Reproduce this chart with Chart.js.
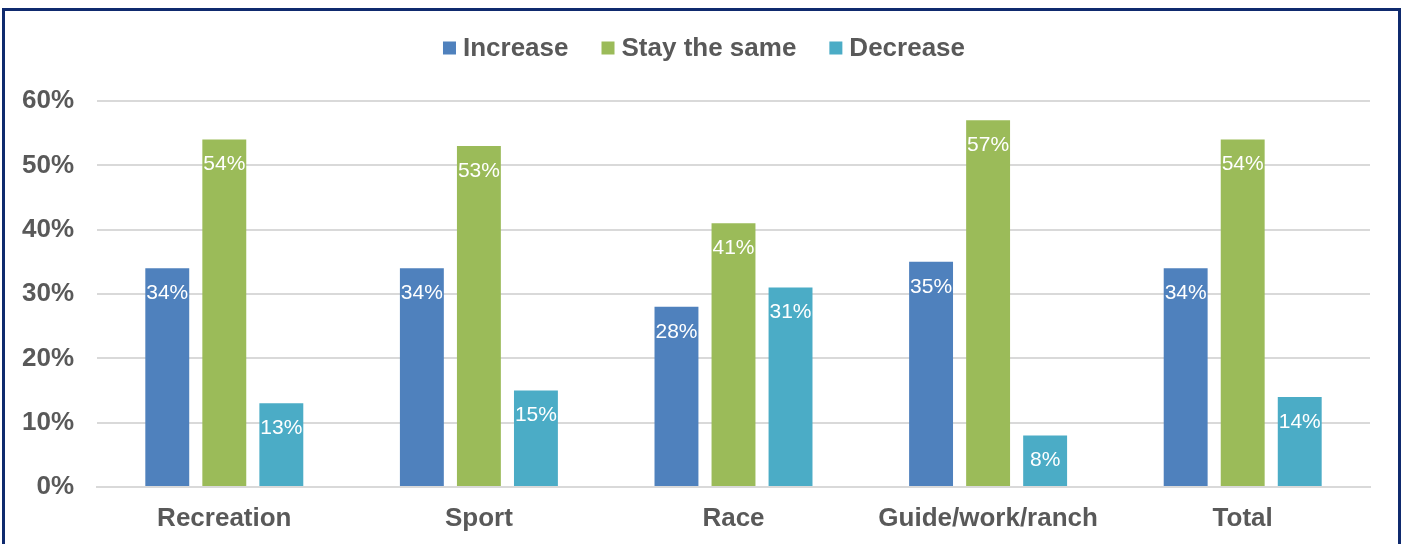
<!DOCTYPE html>
<html>
<head>
<meta charset="utf-8">
<script src="https://cdn.jsdelivr.net/npm/chart.js@4/dist/chart.umd.min.js"></script>
<style>
  html, body { margin: 0; padding: 0; background: #fff; overflow: hidden; }
  #frame { position: absolute; left: 2px; top: 8px; width: 1399px; height: 600px;
           border: 3px solid #0f2a6e; box-sizing: border-box; }
  #wrap { position: absolute; left: 0; top: 0; width: 1408px; height: 544px; }
</style>
</head>
<body>
<div id="frame"></div>
<div id="wrap"><canvas id="c" width="1408" height="544"></canvas></div>
<script>
const categories = ['Recreation', 'Sport', 'Race', 'Guide/work/ranch', 'Total'];
const increase = [34, 34, 28, 35, 34];
const staySame = [54, 53, 41, 57, 54];
const decrease = [13, 15, 31, 8, 14];
const yTicks = [0, 10, 20, 30, 40, 50, 60];

const textColor = '#595959';
const fontFamily = '"Liberation Sans", Arial, sans-serif';
const boldFont = 'bold 26px ' + fontFamily;

// value labels drawn inside each bar, near its top
const barLabels = {
  id: 'barLabels',
  afterDatasetsDraw(chart) {
    const ctx = chart.ctx;
    ctx.save();
    ctx.font = '21px ' + fontFamily;
    ctx.fillStyle = '#ffffff';
    ctx.textAlign = 'center';
    ctx.textBaseline = 'middle';
    chart.data.datasets.forEach((ds, i) => {
      chart.getDatasetMeta(i).data.forEach((bar, j) => {
        const top = bar.y, bottom = bar.base;
        const y = Math.min(top + 25, (top + bottom) / 2 + 1);
        ctx.fillText(ds.data[j] + '%', bar.x, y);
      });
    });
    ctx.restore();
  }
};

// compact legend row above the plot: square swatch + bold series name
const topLegend = {
  id: 'topLegend',
  afterDraw(chart) {
    const ctx = chart.ctx;
    const box = 13, gapText = 7, gapItem = 33, cy = 48;
    ctx.save();
    ctx.font = boldFont;
    const items = chart.data.datasets.map(ds => ({
      label: ds.label, color: ds.backgroundColor, w: ctx.measureText(ds.label).width
    }));
    const total = items.reduce((s, it) => s + box + gapText + it.w, 0) + gapItem * (items.length - 1);
    let x = chart.width / 2 - total / 2;
    ctx.textBaseline = 'middle';
    ctx.textAlign = 'left';
    items.forEach(it => {
      ctx.fillStyle = it.color;
      ctx.fillRect(x, cy - box / 2, box, box);
      x += box + gapText;
      ctx.fillStyle = textColor;
      ctx.fillText(it.label, x, cy + 1);
      x += it.w + gapItem;
    });
    ctx.restore();
  }
};

new Chart(document.getElementById('c'), {
  type: 'bar',
  data: {
    labels: categories,
    datasets: [
      { label: 'Increase', data: increase, backgroundColor: '#4f81bd' },
      { label: 'Stay the same', data: staySame, backgroundColor: '#9bbb59' },
      { label: 'Decrease', data: decrease, backgroundColor: '#4bacc6' }
    ]
  },
  options: {
    responsive: false,
    animation: false,
    events: [],
    layout: { padding: { left: 0, right: 38, top: 101, bottom: 0 } },
    datasets: { bar: { categoryPercentage: 0.672, barPercentage: 0.77 } },
    plugins: {
      legend: { display: false },
      tooltip: { enabled: false }
    },
    scales: {
      x: {
        afterFit(scale) { scale.height = 57; },
        grid: { display: false, drawTicks: false },
        border: { color: '#d9d9d9', width: 2 },
        ticks: { color: textColor, padding: 16, font: { family: fontFamily, size: 26, weight: 'bold' } }
      },
      y: {
        min: 0, max: 60,
        afterFit(scale) { scale.width = 97; },
        afterBuildTicks(scale) { scale.ticks = yTicks.map(v => ({ value: v })); },
        grid: { color: '#d9d9d9', lineWidth: 2, drawTicks: false },
        border: { display: false },
        ticks: {
          color: textColor, padding: 23,
          font: { family: fontFamily, size: 26, weight: 'bold' },
          callback: v => v + '%'
        }
      }
    }
  },
  plugins: [barLabels, topLegend]
});
</script>
</body>
</html>
